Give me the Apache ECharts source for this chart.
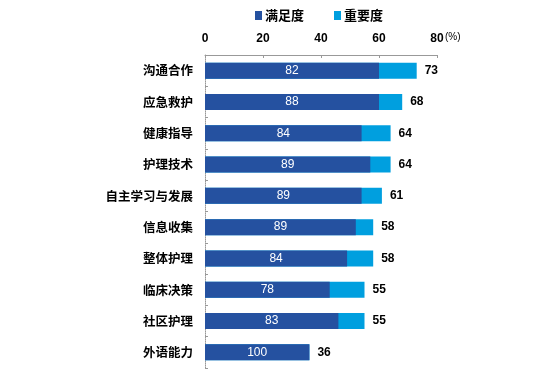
<!DOCTYPE html>
<html>
<head>
<meta charset="utf-8">
<script src="https://cdn.jsdelivr.net/npm/echarts@6/dist/echarts.min.js"></script>
<style>
  html, body { margin: 0; padding: 0; background: #fff; }
  #chart { width: 547px; height: 377px; }
</style>
</head>
<body>
<div id="chart"></div>
<script>
// categories, top to bottom
var categories = ['沟通合作', '应急救护', '健康指导', '护理技术', '自主学习与发展',
    '信息收集', '整体护理', '临床决策', '社区护理', '外语能力'];
// 重要度 (full bar length, labelled at the right)
var importance = [73, 68, 64, 64, 61, 58, 58, 55, 55, 36];
// 满足度 bar length
var satisfiedBar = [60, 60, 54, 57, 54, 52, 49, 43, 46, 36];
// 满足度 labels printed inside the dark bar
var satisfaction = [82, 88, 84, 89, 89, 89, 84, 78, 83, 100];
var xTicks = [0, 20, 40, 60, 80];

var cjk = '"Noto Sans CJK SC", sans-serif';
var latin = '"Liberation Sans", Arial, sans-serif';
var chart = echarts.init(document.getElementById('chart'));

var option = {
    animation: false,
    textStyle: { fontFamily: cjk },
    legend: {
        top: 4,
        left: 250,
        icon: 'rect',
        itemWidth: 7,
        itemHeight: 9,
        itemGap: 30,
        data: ['满足度', '重要度'],
        textStyle: { fontSize: 13, fontWeight: 'bold', color: '#000', fontFamily: cjk, padding: [0, 0, 0, -2] }
    },
    grid: { left: 205, right: 110, top: 55, bottom: 9, containLabel: false },
    graphic: [{
        type: 'text',
        left: 445,
        top: 32,
        style: { text: '(%)', fontSize: 10, fill: '#000', fontFamily: latin }
    }],
    xAxis: {
        type: 'value',
        position: 'top',
        min: xTicks[0],
        max: xTicks[xTicks.length - 1],
        interval: 20,
        axisLine: { show: true, lineStyle: { color: '#999', width: 1 } },
        axisTick: { show: true, inside: true, length: 3, lineStyle: { color: '#999' } },
        axisLabel: { margin: 10, fontSize: 12, fontWeight: 'bold', color: '#000', fontFamily: latin },
        splitLine: { show: false }
    },
    yAxis: {
        type: 'category',
        inverse: true,
        data: categories,
        axisLine: { show: true, lineStyle: { color: '#999', type: 'dotted' } },
        axisTick: { show: true, inside: true, length: 3, lineStyle: { color: '#999' } },
        axisLabel: { margin: 12, fontSize: 12.5, fontWeight: 'bold', color: '#000', fontFamily: cjk }
    },
    series: [
        {
            name: '重要度',
            type: 'bar',
            data: importance,
            barWidth: 16,
            itemStyle: { color: '#009FDF' },
            label: {
                show: true,
                position: 'right',
                distance: 8,
                fontSize: 12,
                fontWeight: 'bold',
                color: '#000',
                fontFamily: latin
            }
        },
        {
            name: '满足度',
            type: 'bar',
            data: satisfiedBar,
            barWidth: 16,
            barGap: '-100%',
            itemStyle: { color: '#2551A0' },
            label: {
                show: true,
                position: 'inside',
                fontSize: 12,
                color: '#fff',
                fontFamily: latin,
                formatter: function (p) { return satisfaction[p.dataIndex]; }
            }
        }
    ]
};
chart.setOption(option);
</script>
</body>
</html>
